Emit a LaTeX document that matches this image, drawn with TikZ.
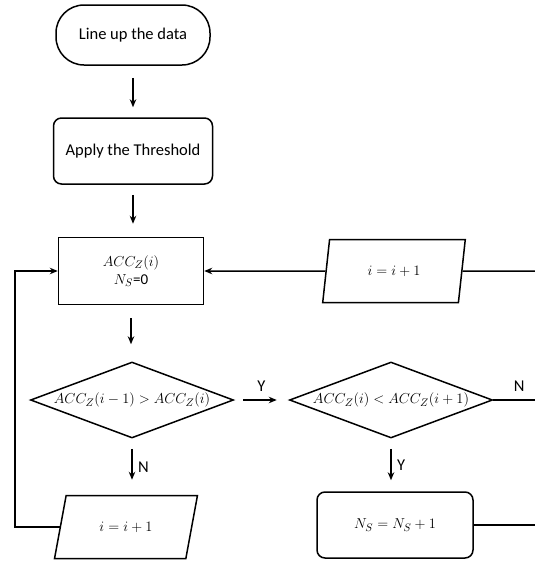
\documentclass[tikz,border=0pt]{standalone}
\usepackage{fontspec}
\setmainfont{Carlito}
\usetikzlibrary{shapes.geometric,arrows.meta}

\begin{document}
\begin{tikzpicture}[x=1pt,y=-1pt,line width=1.5pt,>={Stealth[length=8pt,width=6.5pt]},
  every node/.style={font=\fontsize{16.5}{19}\selectfont},
  mth/.style={font=\fontsize{15}{18}\selectfont},
  term/.style={draw,rounded corners=28pt,minimum width=154pt,minimum height=60pt},
  proc/.style={draw,rounded corners=8pt,minimum width=#1,minimum height=66pt},
  io/.style={draw,trapezium,trapezium left angle=#1,trapezium right angle=180-#1,
    trapezium stretches=true,minimum width=143pt,minimum height=63pt,inner sep=0pt,mth},
  cond/.style={draw,diamond,minimum width=203pt,minimum height=76pt,inner sep=0pt}]
  \useasboundingbox (0,0) rectangle (535,563);

  \node[term] (start) at (133,35) {Line up the data};
  \node[proc=159pt] (apply) at (133,151) {Apply the Threshold};
  \node[draw,minimum width=145pt,minimum height=67pt,align=center,mth] (acc) at (131,271)
    {$ACC_Z(i)$\\$N_S$=0};
  \node[io=75] (incR) at (394,271) {$i=i+1$};
  \node[cond,label={[name=ctest1,mth]center:$ACC_Z(i-1)>ACC_Z(i)$}] (dec1) at (132,400) {};
  \node[cond,label={[name=ctest2,mth]center:$ACC_Z(i)<ACC_Z(i+1)$}] (dec2) at (391,400) {};
  \node[io=64] (incL) at (126,527) {$i=i+1$};
  \node[proc=156pt,mth] (count) at (395,525) {$N_S=N_S+1$};

  \coordinate (loopL) at (15,400);
  \foreach \n/\y in {outR/271, outC/400, outN/525}
    \coordinate (\n) at (535,\y);

  \draw[->,shorten <=12pt,shorten >=10pt] (start) -- (start |- apply.north);
  \draw[->,shorten <=10pt,shorten >=13pt] (apply) -- (apply |- acc.north);
  \draw[->,shorten <=13pt,shorten >=17pt] (acc) -- (acc |- dec1.north);
  \draw[->,shorten <=9pt,shorten >=12pt] (dec1.east) -- (dec2.west) node[midway,above=4pt] (yes1) {Y};
  \draw[->,shorten <=10pt,shorten >=15pt] (dec1.south) -- (dec1.south |- incL.north) node[midway,right=2pt] (no1) {N};
  \draw[->,shorten <=10pt,shorten >=11pt] (dec2.south) -- (dec2.south |- count.north) node[midway,right=2pt] (yes2) {Y};
  \draw (dec2.east) -- (outC) node[pos=0.62,above=4pt] (no2) {N};
  \draw[->] (incR.west) -- (acc.east);
  \draw (incR.east) -- (outR);
  \draw (count.east) -- (outN);
  \draw[->] (incL.west) -| (loopL) |- (acc.west);
\end{tikzpicture}
\end{document}
